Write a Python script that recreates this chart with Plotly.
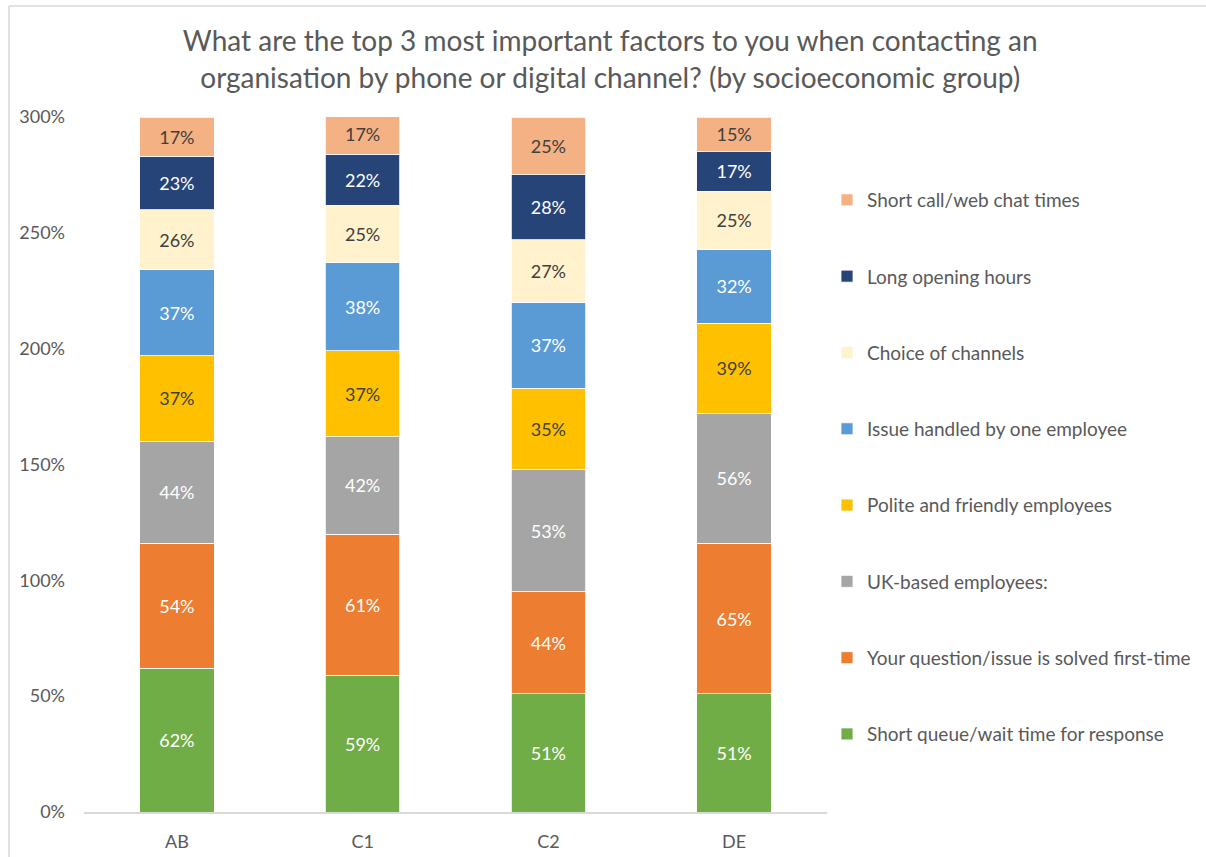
import plotly.graph_objects as go

categories = ["AB", "C1", "C2", "DE"]

series_names = [
    "Short queue/wait time for response",
    "Your question/issue is solved first-time",
    "UK-based employees:",
    "Polite and friendly employees",
    "Issue handled by one employee",
    "Choice of channels",
    "Long opening hours",
    "Short call/web chat times",
]

short_queue = [62, 59, 51, 51]
first_time = [54, 61, 44, 65]
uk_based = [44, 42, 53, 56]
polite = [37, 37, 35, 39]
one_employee = [37, 38, 37, 32]
choice_channels = [26, 25, 27, 25]
opening_hours = [23, 22, 28, 17]
short_call = [17, 17, 25, 15]

series_values = [short_queue, first_time, uk_based, polite,
                 one_employee, choice_channels, opening_hours, short_call]

colors = ["#70AD47", "#ED7D31", "#A5A5A5", "#FFC000",
          "#5B9BD5", "#FFF2CC", "#264478", "#F4B183"]
text_colors = ["#FFFFFF", "#FFFFFF", "#FFFFFF", "#404040",
               "#FFFFFF", "#404040", "#FFFFFF", "#404040"]

y_ticks = [0, 50, 100, 150, 200, 250, 300]
y_tick_labels = ["0%", "50%", "100%", "150%", "200%", "250%", "300%"]

FONT = "Lato, Calibri, Carlito, sans-serif"

fig = go.Figure()
for i, (name, vals) in enumerate(zip(series_names, series_values)):
    fig.add_trace(go.Bar(
        x=categories, y=vals, name=name,
        legendgroup=f"g{i}", legendrank=100 - i,
        marker=dict(color=colors[i], line=dict(color="#FFFFFF", width=0.8)),
        text=[f"{v}%" for v in vals],
        textposition="inside",
        insidetextanchor="middle",
        textangle=0,
        constraintext="none",
        textfont=dict(family=FONT, size=18, color=text_colors[i]),
        hovertemplate="%{x}: %{y}%<extra>" + name + "</extra>",
    ))

# plot-area pixel geometry
L, R, T, B = 84, 827, 117, 812
def px(x):
    return (x - L) / (R - L)
def py(y):
    return (B - y) / (B - T)

# decorative chart border
shapes = [
    dict(type="line", xref="paper", yref="paper", x0=px(9), x1=px(9), y0=py(6), y1=py(860),
         line=dict(color="#D9D9D9", width=1.5)),
    dict(type="line", xref="paper", yref="paper", x0=px(9), x1=px(1210), y0=py(6), y1=py(6),
         line=dict(color="#D9D9D9", width=1.5)),
]

fig.update_layout(
    width=1206, height=857,
    margin=dict(l=L, r=1206 - R, t=T, b=857 - B, pad=0, autoexpand=False),
    paper_bgcolor="white", plot_bgcolor="white",
    barmode="stack", bargap=0.6,
    font=dict(family=FONT, color="#595959"),
    title=dict(
        text="What are the top 3 most important factors to you when contacting an<br>organisation by phone or digital channel? (by socioeconomic group)",
        x=0.5060, xref="container", xanchor="center",
        y=0.9400, yref="container", yanchor="top",
        font=dict(family=FONT, size=28, color="#595959"),
    ),
    xaxis=dict(
        showgrid=False, showline=True, linecolor="#D9D9D9", linewidth=1.5,
        ticks="", tickfont=dict(size=18, color="#595959"),
        ticklabelstandoff=13,
    ),
    yaxis=dict(
        range=[0, 300], tickvals=y_ticks, ticktext=y_tick_labels,
        showgrid=False, showline=False, zeroline=False, ticks="",
        tickfont=dict(size=18, color="#595959"),
        ticklabelstandoff=18,
    ),
    legend=dict(
        traceorder="grouped", tracegroupgap=48.6,
        x=px(827), xanchor="left", y=py(181), yanchor="top",
        font=dict(size=19, color="#595959"),
        bgcolor="rgba(0,0,0,0)",
    ),
    shapes=shapes,
    showlegend=True,
)

fig.write_html("out.html", config={"displayModeBar": False},
               post_script="document.body.style.margin='0px';")
